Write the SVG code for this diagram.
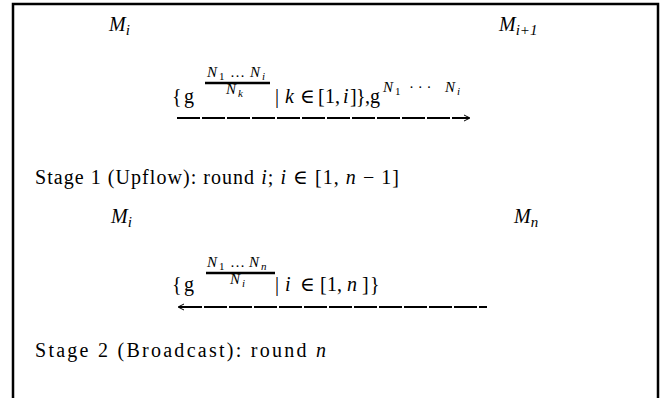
<svg xmlns="http://www.w3.org/2000/svg" width="664" height="398" viewBox="0 0 664 398">
<style>
text{font-family:"Liberation Serif","DejaVu Serif",serif;fill:#000}
.t{font-size:20px}
.m{font-size:20px;font-style:italic}
.s{font-size:15px}
.si{font-size:15px;font-style:italic}
.ss{font-size:11px}
.ssi{font-size:11px;font-style:italic}
.frame{fill:none;stroke:#000;stroke-width:2.5}
.bar{stroke:#000;stroke-width:2.5}
.dash{stroke:#000;stroke-width:2;stroke-dasharray:23 2;fill:none}
.head{stroke:#000;stroke-width:1;fill:none}
</style>
<path class="frame" d="M13,398 V4 H658 V398"/>
<g id="n-mi-1"><text class="m" x="109" y="31">M<tspan class="si" dy="4">i</tspan></text></g>
<g id="n-mi1"><text class="m" x="499" y="31">M<tspan class="si" dy="4">i</tspan><tspan class="s">+1</tspan></text></g>
<g id="n-mi-2"><text class="m" x="111" y="223">M<tspan class="si" dy="4">i</tspan></text></g>
<g id="n-mn"><text class="m" x="514" y="223">M<tspan class="si" dy="4">n</tspan></text></g>
<g id="stage1"><text class="t" x="35" y="184" textLength="364" lengthAdjust="spacing">Stage 1 (Upflow): round <tspan font-style="italic">i</tspan>; <tspan font-style="italic">i</tspan> ∈ [1, <tspan font-style="italic">n</tspan> − 1]</text></g>
<g id="stage2"><text class="t" x="35" y="357" textLength="291" lengthAdjust="spacing">Stage 2 (Broadcast): round <tspan font-style="italic">n</tspan></text></g>
<g id="connectors">
<g id="c1">
<text class="t" y="103"><tspan x="172">{</tspan><tspan x="184">g</tspan></text>
<text class="si" y="77"><tspan x="207">N</tspan><tspan class="ss" font-style="normal" x="219" dy="3">1</tspan><tspan class="s" font-style="normal" x="230" dy="-3">…</tspan><tspan x="250">N</tspan><tspan class="ssi" x="262" dy="3">i</tspan></text>
<line class="bar" x1="205" y1="83" x2="270" y2="83"/>
<text class="si" y="94"><tspan x="226">N</tspan><tspan class="ssi" x="238" dy="3">k</tspan></text>
<text class="t" y="103"><tspan x="275">|</tspan><tspan x="285" font-style="italic">k</tspan><tspan x="300">∈</tspan><tspan x="318">[</tspan><tspan x="325">1</tspan><tspan x="335">,</tspan><tspan x="343" font-style="italic">i</tspan><tspan x="350">]</tspan><tspan x="356">}</tspan><tspan x="365">,</tspan><tspan x="370">g</tspan></text>
<text class="si" y="92"><tspan x="383">N</tspan><tspan class="ss" font-style="normal" x="395" dy="3">1</tspan><tspan class="s" font-style="normal" x="409" dy="-3">· · ·</tspan><tspan x="445">N</tspan><tspan class="ssi" x="457" dy="3">i</tspan></text>
<line class="dash" x1="177" y1="118" x2="469" y2="118"/>
<path class="head" d="M464,115 L470,118 L464,121"/>
</g>
<g id="c2">
<text class="t" y="291"><tspan x="172">{</tspan><tspan x="184">g</tspan></text>
<text class="si" y="267"><tspan x="207">N</tspan><tspan class="ss" font-style="normal" x="219" dy="3">1</tspan><tspan class="s" font-style="normal" x="230" dy="-3">…</tspan><tspan x="249">N</tspan><tspan class="ssi" x="261" dy="3">n</tspan></text>
<line class="bar" x1="206" y1="273" x2="275" y2="273"/>
<text class="si" y="284"><tspan x="230">N</tspan><tspan class="ssi" x="242" dy="3">i</tspan></text>
<text class="t" y="291"><tspan x="275">|</tspan><tspan x="285" font-style="italic">i</tspan><tspan x="300">∈</tspan><tspan x="320">[</tspan><tspan x="327">1</tspan><tspan x="337">,</tspan><tspan x="347" font-style="italic">n</tspan><tspan x="362">]</tspan><tspan x="370">}</tspan></text>
<line class="dash" x1="179" y1="307" x2="487" y2="307"/>
<path class="head" d="M184,304 L178,307 L184,310"/>
</g>
</g>
</svg>
